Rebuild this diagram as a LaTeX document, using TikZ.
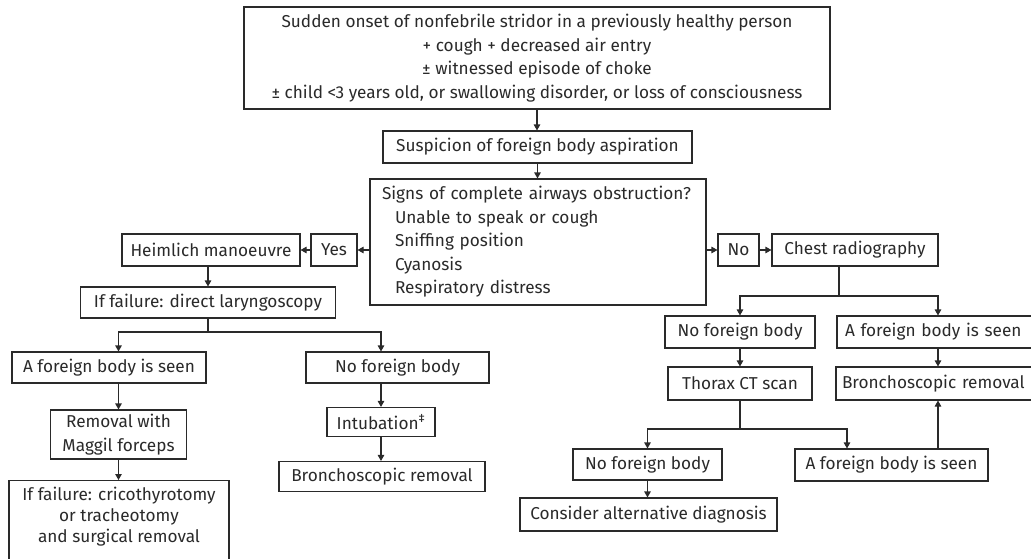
\documentclass[tikz,border=0pt]{standalone}
\usepackage{fontspec}
\setmainfont{Fira Sans}
\usetikzlibrary{arrows.meta}
\definecolor{ink}{HTML}{2A2A2A}
\newcommand{\fs}{\fontsize{17.2pt}{23.5pt}\selectfont}
\begin{document}
\begin{tikzpicture}[x=1pt,y=-1pt,
  box/.style={draw=ink, line width=1.1pt, inner sep=0pt, align=center, text=ink, font=\fs},
  arr/.style={draw=ink, line width=1.1pt, -{Triangle[length=6pt,width=6.5pt]}},
  ln/.style={draw=ink, line width=1.1pt}]
\useasboundingbox (0,0) rectangle (1031,558);
\clip (0,0) rectangle (1031,558);
\fill[white] (0,0) rectangle (1031,558);

% top
\node[box, minimum width=586pt, minimum height=102pt] (top) at (537,58)
  {Sudden onset of nonfebrile stridor in a previously healthy person\\
   + cough + decreased air entry\\
   ± witnessed episode of choke\\
   ± child <3 years old, or swallowing disorder, or loss of consciousness};
\node[box, minimum width=309pt, minimum height=32pt] (susp) at (537.5,147)
  {Suspicion of foreign body aspiration};
\node[box, minimum width=336pt, minimum height=126pt, text width=312pt, inner xsep=12pt, align=left] (signs) at (538,242)
  {Signs of complete airways obstruction?\\
   \hspace*{13pt}Unable to speak or cough\\
   \hspace*{13pt}Sniffing position\\
   \hspace*{13pt}Cyanosis\\
   \hspace*{13pt}Respiratory distress};

% left branch
\node[box, minimum width=46pt, minimum height=32pt] (yes) at (334,250) {Yes};
\node[box, minimum width=178pt, minimum height=32pt] (heim) at (211,250) {Heimlich manoeuvre};
\node[box, minimum width=255pt, minimum height=31pt] (laryn) at (208,302.5) {If failure: direct laryngoscopy};
\node[box, minimum width=194pt, minimum height=31pt] (afbL) at (109,367.5) {A foreign body is seen};
\node[box, minimum width=183pt, minimum height=31pt] (nfbL) at (397.5,367.5) {No foreign body};
\node[box, minimum width=136pt, minimum height=49pt] (remov) at (118.5,434.5) {Removal with\\Maggil forceps};
\node[box, minimum width=220pt, anchor=north, inner ysep=7pt, font=\fontsize{17.2pt}{21pt}\selectfont] (crico) at (119,480)
  {If failure: cricothyrotomy\\or tracheotomy\\and surgical removal\\[20pt]};
\node[box, minimum width=108pt, minimum height=29pt] (intub) at (381,422) {Intubation\textsuperscript{‡}};
\node[box, minimum width=206pt, minimum height=30pt] (bronL) at (382,476.5) {Bronchoscopic removal};

% right branch
\node[box, minimum width=41pt, minimum height=32pt] (no) at (738.5,250) {No};
\node[box, minimum width=166pt, minimum height=32pt] (chest) at (855,250) {Chest radiography};
\node[box, minimum width=150pt, minimum height=32pt] (nfbR1) at (740,332) {No foreign body};
\node[box, minimum width=196pt, minimum height=32pt, text width=186pt, align=left, inner xsep=8pt] (afbR1) at (938,332) {A foreign body is seen};
\node[box, minimum width=204pt, minimum height=33pt, text width=192pt, align=left, inner xsep=6pt] (bronR) at (938,383.5) {Bronchoscopic removal};
\node[box, minimum width=144pt, minimum height=33pt] (thorax) at (740,383.5) {Thorax CT scan};
\node[box, minimum width=149pt, minimum height=31pt] (nfbR2) at (647.5,464.5) {No foreign body};
\node[box, minimum width=193pt, minimum height=32pt] (afbR2) at (891.5,465) {A foreign body is seen};
\node[box, minimum width=257pt, minimum height=33pt] (consider) at (648.5,514.5) {Consider alternative diagnosis};

% connectors
\draw[arr] (top.south) -- (top.south |- susp.north);
\draw[arr] (susp.south) -- (susp.south |- signs.north);
\draw[arr] (yes.east -| signs.west) -- (yes.east);
\draw[arr] (yes.west) -- (heim.east);
\draw[arr] (laryn.north |- heim.south) -- (laryn.north);
\coordinate (jL) at (208,332);
\draw[ln] (laryn.south) -- (jL);
\draw[arr] (jL) -| (remov.north |- afbL.north);
\draw[arr] (jL) -| (intub.north |- nfbL.north);
\draw[arr] (remov.north |- afbL.south) -- (remov.north);
\draw[arr] (remov.south) -- (remov.south |- crico.north);
\draw[arr] (intub.north |- nfbL.south) -- (intub.north);
\draw[arr] (intub.south) -- (intub.south |- bronL.north);

\draw[arr] (no.west -| signs.east) -- (no.west);
\draw[arr] (no.east) -- (chest.west);
\coordinate (jR) at (839,296);
\draw[ln] (chest.south -| jR) -- (jR);
\draw[arr] (jR) -| (nfbR1.north);
\draw[arr] (jR) -| (afbR1.north);
\draw[arr] (nfbR1.south) -- (nfbR1.south |- thorax.north);
\draw[arr] (afbR1.south) -- (afbR1.south |- bronR.north);
\coordinate (jT) at (740,429);
\draw[ln] (thorax.south) -- (jT);
\draw[arr] (jT) -| (nfbR2.north);
\draw[arr] (jT) -| ([xshift=-44.5pt]afbR2.north);
\draw[arr] (bronR.south |- afbR2.north) -- (bronR.south);
\draw[arr] (nfbR2.south) -- (nfbR2.south |- consider.north);
\end{tikzpicture}
\end{document}
